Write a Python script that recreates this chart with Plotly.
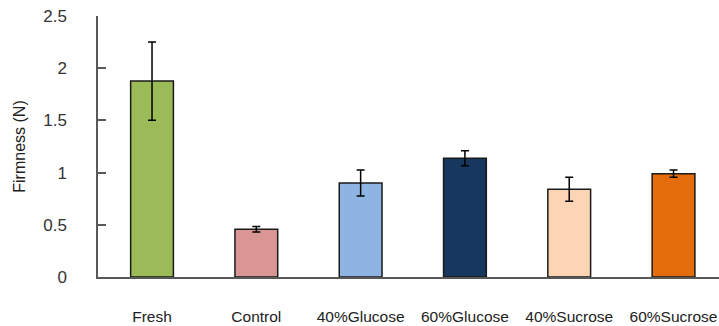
import plotly.graph_objects as go

categories = ["Fresh", "Control", "40%Glucose", "60%Glucose", "40%Sucrose", "60%Sucrose"]
firmness = [1.877, 0.457, 0.90, 1.137, 0.84, 0.99]
errors = [0.375, 0.027, 0.125, 0.072, 0.115, 0.035]
colors = ["#9BBB59", "#D99694", "#8EB4E3", "#17375E", "#FCD5B5", "#E46C0A"]
y_ticks = [0, 0.5, 1, 1.5, 2, 2.5]
y_tick_labels = ["0", "0.5", "1", "1.5", "2", "2.5"]

fig = go.Figure()
fig.add_trace(go.Bar(
    x=categories,
    y=firmness,
    width=0.41,
    marker=dict(color=colors, line=dict(color="#1a1a1a", width=1.5)),
    error_y=dict(type="data", array=errors, visible=True, color="#000000",
                 thickness=1.5, width=4),
))

font = dict(family="Liberation Sans, Arial, sans-serif", size=15, color="#222222")

fig.update_layout(
    width=719, height=326,
    margin=dict(l=98, r=0, t=16, b=49),
    paper_bgcolor="white", plot_bgcolor="white",
    showlegend=False,
    font=font,
    bargap=0.59,
)
fig.update_xaxes(
    range=[-0.518, 5.436],
    automargin=False,
    showline=True, linecolor="#595959", linewidth=1.5,
    ticks="", showgrid=False,
    ticklabelstandoff=25,
    tickfont=dict(size=15.5, color="#222222"),
)
fig.update_yaxes(
    range=[0, 2.5],
    automargin=False,
    tickvals=y_ticks, ticktext=y_tick_labels,
    showline=True, linecolor="#595959", linewidth=1.5,
    ticks="inside", ticklen=8, tickcolor="#595959", tickwidth=1.5,
    showgrid=False, zeroline=False,
    ticklabelstandoff=26,
    tickfont=dict(size=17, color="#333333"),
    title=dict(text="Firmness (N)", font=dict(size=16, color="#222222"), standoff=14),
)

fig.write_html("out.html", config={"displayModeBar": False},
               post_script="document.body.style.margin='0';document.body.style.overflow='hidden';")
